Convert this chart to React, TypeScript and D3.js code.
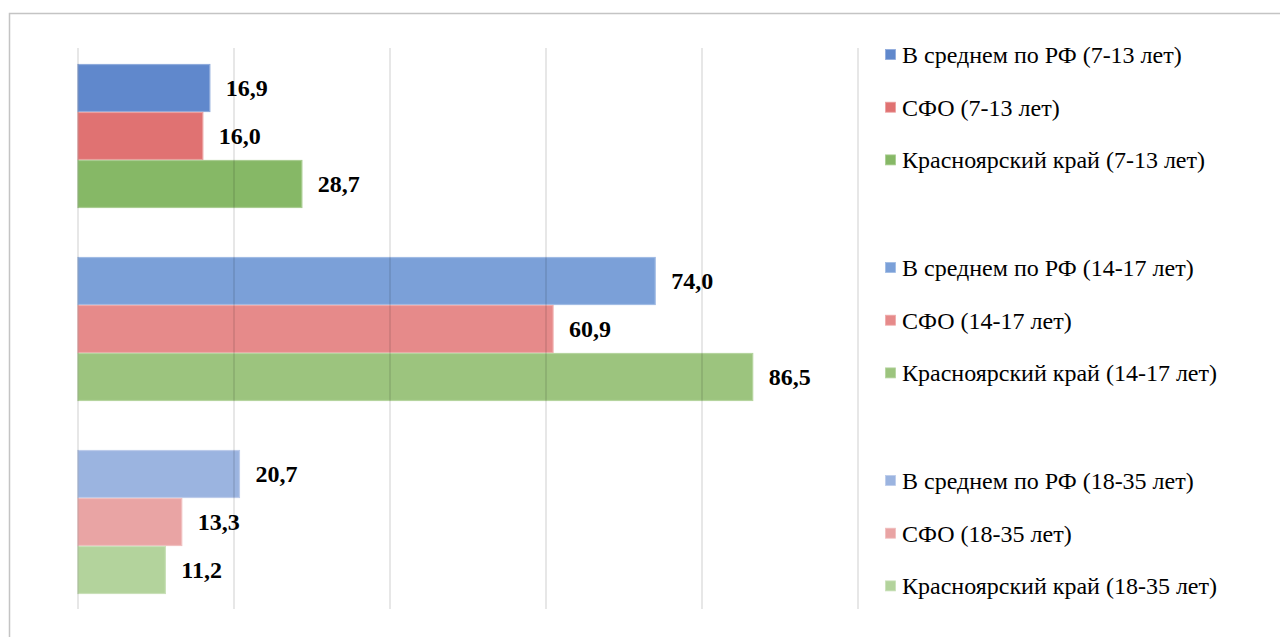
import React from "react";
import * as d3 from "d3";

const ageGroups = ["7-13 лет", "14-17 лет", "18-35 лет"];
const seriesNames = ["В среднем по РФ", "СФО", "Красноярский край"];
const valuesRF = [16.9, 74.0, 20.7];
const valuesSFO = [16.0, 60.9, 13.3];
const valuesKrsk = [28.7, 86.5, 11.2];
const xTicks = [0, 20, 40, 60, 80, 100];

const colors = [
  ["#6088cc", "#e07272", "#86b866"],
  ["#7ba0d8", "#e68a8a", "#9cc47e"],
  ["#9bb4e0", "#e9a4a4", "#b3d39c"],
];
const strokes = [
  ["#8fabdc", "#eba0a0", "#a8cc90"],
  ["#a0bbe4", "#eeaaaa", "#b5d49e"],
  ["#bccbea", "#f0bfbf", "#c9e0b8"],
];

export default function App() {
  const W = 1280, H = 637;
  const seriesValues = [valuesRF, valuesSFO, valuesKrsk];
  const x = d3.scaleLinear().domain([0, 100]).range([78, 858]);
  const y0 = d3.scaleBand<string>().domain(ageGroups).range([39.5, 618.5]).paddingInner(0.254).paddingOuter(0.127);
  const y1 = d3.scaleBand<string>().domain(seriesNames).range([0, y0.bandwidth()]).padding(0);
  const gridTop = 48, gridBottom = 609;
  const fmt = (v: number) => v.toFixed(1).replace(".", ",");
  const font = "Liberation Serif";
  const legendStep = 52.7;
  const groupStep = 213;

  return (
    <svg width={W} height={H} style={{ position: "fixed", left: 0, top: 0, background: "#fff" }}>
      <rect x={9.5} y={13.5} width={1400} height={800} fill="#fff" stroke="#c4c4c4" strokeWidth={1.5} />
      {ageGroups.map((g, gi) =>
        seriesNames.map((s, si) => {
          const v = seriesValues[si][gi];
          const yy = (y0(g) ?? 0) + (y1(s) ?? 0);
          return (
            <rect key={g + s} x={x(0)} y={yy + 0.5} width={x(v) - x(0)} height={y1.bandwidth() - 1}
              fill={colors[gi][si]} stroke={strokes[gi][si]} strokeWidth={1.2} />
          );
        })
      )}
      {xTicks.map((t) => (
        <line key={t} x1={x(t)} x2={x(t)} y1={gridTop} y2={gridBottom} stroke="rgba(0,0,0,0.16)" strokeWidth={1.2} />
      ))}
      {ageGroups.map((g, gi) =>
        seriesNames.map((s, si) => {
          const v = seriesValues[si][gi];
          const yy = (y0(g) ?? 0) + (y1(s) ?? 0) + y1.bandwidth() / 2;
          return (
            <text key={"l" + g + s} x={x(v) + 16} y={yy} dominantBaseline="central" fontSize={24} fontWeight="bold" fill="#000" style={{ fontFamily: font }}>
              {fmt(v)}
            </text>
          );
        })
      )}
      {ageGroups.map((g, gi) =>
        seriesNames.map((s, si) => {
          const cy = 55 + gi * groupStep + si * legendStep;
          return (
            <g key={"lg" + g + s}>
              <rect x={885.5} y={cy - 5.5} width={10} height={10} fill={colors[gi][si]} stroke={strokes[gi][si]} strokeWidth={0.8} />
              <text x={902} y={cy} dominantBaseline="central" fontSize={24} fill="#000" style={{ fontFamily: font }}>
                {`${s} (${g})`}
              </text>
            </g>
          );
        })
      )}
    </svg>
  );
}
